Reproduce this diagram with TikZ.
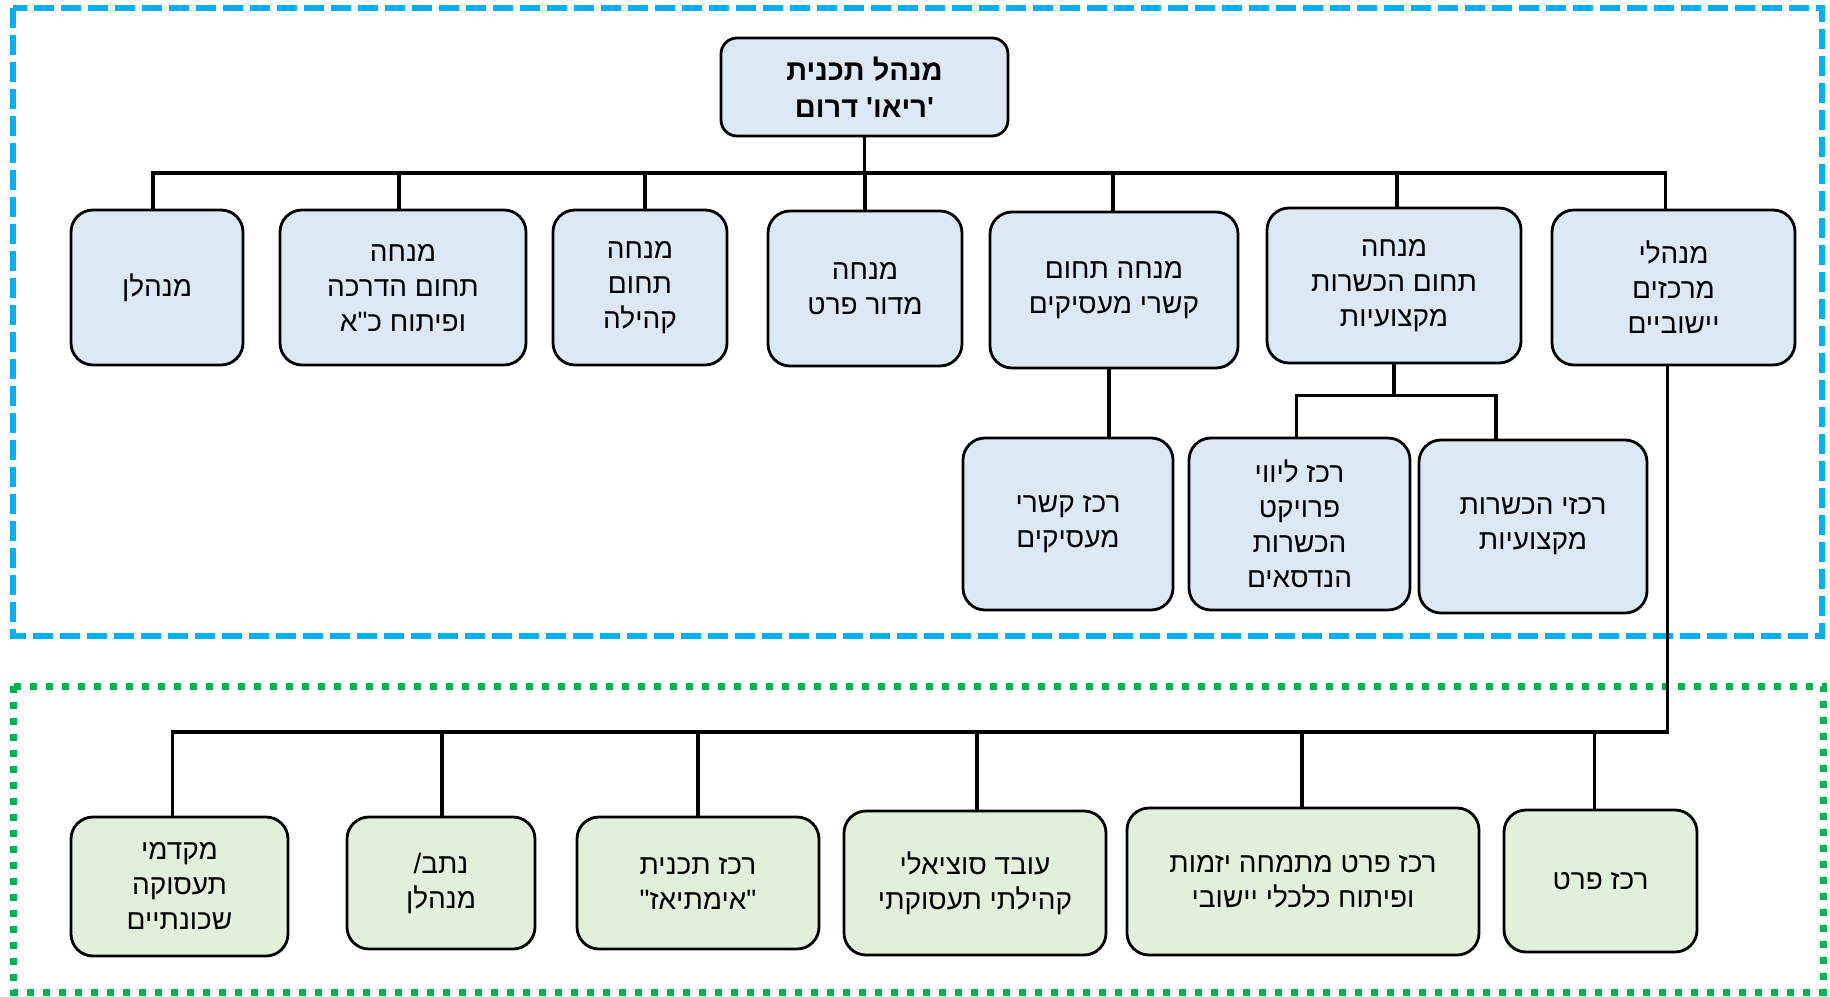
\documentclass[tikz,border=0pt]{standalone}
\usepackage{fontspec}
\newfontfamily\heb[Script=Hebrew,Ligatures=TeXOff]{Liberation Sans}
\TeXXeTstate=1
\newcommand\hl[1]{\beginR #1\endR}
\definecolor{bfill}{HTML}{DDE8F5}
\definecolor{gfill}{HTML}{E2EFDA}
\definecolor{bdash}{HTML}{00B0F0}
\definecolor{gdash}{HTML}{00B050}
\tikzset{
  box/.style={draw, line width=2.8pt, rounded corners=22pt, align=center, inner sep=0pt,
    font=\heb\fontsize{28}{35}\selectfont},
  bbox/.style={box, fill=bfill},
  gbox/.style={box, fill=gfill},
  conn/.style={draw, line width=3.5pt, line cap=rect},
  bluedash/.style={draw=bdash, line width=6pt, dash pattern=on 20pt off 7pt},
  greendot/.style={draw=gdash, line width=7pt, dash pattern=on 7pt off 9pt},
}
\begin{document}
\begin{tikzpicture}[x=1pt,y=-1pt]
\useasboundingbox (0,0) rectangle (1830,996);
\draw[bluedash] (13,8) rectangle (1822,636);
\draw[greendot] (13,686) rectangle (1823,992);

\node[bbox, minimum width=287, minimum height=98, rounded corners=16pt, font=\heb\bfseries\fontsize{29}{37}\selectfont] (top) at (864.5,87) {\hl{מנהל תכנית}\\\hl{'ריאו' דרום}};

\node[bbox, minimum width=172, minimum height=155] (n1) at (157,287.5) {\hl{מנהלן}};
\node[bbox, minimum width=246, minimum height=155] (n2) at (403,287.5) {\hl{מנחה}\\\hl{תחום הדרכה}\\\hl{ופיתוח כ"א}};
\node[bbox, minimum width=174, minimum height=155] (n3) at (640,287.5) {\hl{מנחה}\\\hl{תחום}\\\hl{קהילה}};
\node[bbox, minimum width=194, minimum height=155] (n4) at (865,288.5) {\hl{מנחה}\\\hl{מדור פרט}};
\node[bbox, minimum width=248, minimum height=156] (n5) at (1114,290) {\hl{מנחה תחום}\\\hl{קשרי מעסיקים}};
\node[bbox, minimum width=254, minimum height=155] (n6) at (1394,285.5) {\hl{מנחה}\\\hl{תחום הכשרות}\\\hl{מקצועיות}};
\node[bbox, minimum width=243, minimum height=155] (n7) at (1673.5,287.5) {\hl{מנהלי}\\\hl{מרכזים}\\\hl{יישוביים}};

\node[bbox, minimum width=210, minimum height=172] (r1) at (1068,524) {\hl{רכז קשרי}\\\hl{מעסיקים}};
\node[bbox, minimum width=221, minimum height=172] (r2) at (1299.5,524) {\hl{רכז ליווי}\\\hl{פרויקט}\\\hl{הכשרות}\\\hl{הנדסאים}};
\node[bbox, minimum width=228, minimum height=173] (r3) at (1533,526.5) {\hl{רכזי הכשרות}\\\hl{מקצועיות}};

\node[gbox, minimum width=217, minimum height=139] (b1) at (179.5,886.5) {\hl{מקדמי}\\\hl{תעסוקה}\\\hl{שכונתיים}};
\node[gbox, minimum width=188, minimum height=132] (b2) at (441,883) {\hl{נתב/}\\\hl{מנהלן}};
\node[gbox, minimum width=242, minimum height=132] (b3) at (698,883) {\hl{רכז תכנית}\\\hl{"אימתיאז"}};
\node[gbox, minimum width=262, minimum height=144] (b4) at (975,883) {\hl{עובד סוציאלי}\\\hl{קהילתי תעסוקתי}};
\node[gbox, minimum width=352, minimum height=147] (b5) at (1303,881.5) {\hl{רכז פרט מתמחה יזמות}\\\hl{ופיתוח כלכלי יישובי}};
\node[gbox, minimum width=193, minimum height=142] (b6) at (1600.5,881) {\hl{רכז פרט}};

\coordinate (busT) at (865,173);
\coordinate (busB) at (0,732);

\draw[conn] (top.south) -- (top.south |- busT);
\draw[conn] ([xshift=-4]n1.north |- busT) -- ([xshift=-8]n7.north |- busT);
\foreach \i/\s in {1/-4,2/-4,3/5,4/0,5/-1,6/3,7/-8}
  \draw[conn] ([xshift=\s]n\i.north) -- ([xshift=\s]n\i.north |- busT);

\draw[conn] ([xshift=-5]n5.south) -- ([xshift=-5]n5.south |- r1.north);
\draw[conn] (n6.south) -- ++(0,31) coordinate (busR);
\draw[conn] ([xshift=-3]r2.north) |- (busR) -| ([xshift=-37]r3.north);

\draw[conn] ([xshift=-6]n7.south) |- ([xshift=-7]b1.north |- busB);
\foreach \i/\s in {1/-7,2/1,3/0,4/2,5/-1,6/-6}
  \draw[conn] ([xshift=\s]b\i.north) -- ([xshift=\s]b\i.north |- busB);
\end{tikzpicture}
\end{document}
